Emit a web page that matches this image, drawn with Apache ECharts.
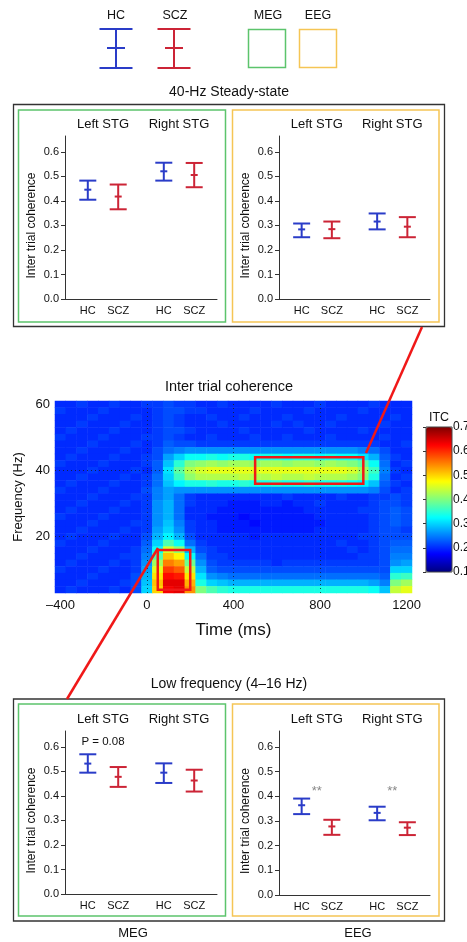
<!DOCTYPE html>
<html>
<head>
<meta charset="utf-8">
<script src="https://cdn.jsdelivr.net/npm/echarts@6/dist/echarts.min.js"></script>
<style>
html, body { margin: 0; padding: 0; background: #fff; }
#chart { width: 467px; height: 942px; }
</style>
</head>
<body>
<div id="chart"></div>
<script>
const FONT = '"Liberation Sans", Arial, sans-serif';
const BLUE = '#2a3cc8';
const RED = '#cc2436';
const GREEN = '#5cc46c';
const ORANGE = '#f5c555';
const LINE_RED = '#f01818';
const JET = ['#00007f', '#0000ff', '#007fff', '#00ffff', '#7fff7f', '#ffff00', '#ff7f00', '#ff0000', '#7f0000'];

// error bar panels: order HC-left, SCZ-left, HC-right, SCZ-right, each [low, mean, high]
const regions = ['Left STG', 'Right STG'];
const groups = ['HC', 'SCZ'];
const meg40Hz = [[0.405, 0.446, 0.483], [0.366, 0.418, 0.467], [0.483, 0.521, 0.556], [0.456, 0.506, 0.555]];
const eeg40Hz = [[0.252, 0.284, 0.308], [0.248, 0.285, 0.316], [0.284, 0.316, 0.349], [0.252, 0.295, 0.334]];
const megLow = [[0.495, 0.532, 0.570], [0.437, 0.478, 0.518], [0.453, 0.495, 0.533], [0.418, 0.463, 0.507]];
const eegLow = [[0.328, 0.364, 0.391], [0.244, 0.278, 0.305], [0.303, 0.333, 0.358], [0.243, 0.273, 0.295]];
const megLowNotes = [['Left STG', 0.62, 'P = 0.08']];
const eegLowNotes = [['Left STG', 0.42, '**'], ['Right STG', 0.42, '**']];

// ITC time-frequency map (values x100), rows from 60 Hz down to 4 Hz
const timeBins = [-400, -350, -300, -250, -200, -150, -100, -50, 0, 50, 100, 150, 200, 250, 300, 350, 400,
  450, 500, 550, 600, 650, 700, 750, 800, 850, 900, 950, 1000, 1050, 1100, 1150, 1200];
const freqBins = [4, 6, 8, 10, 12, 14, 16, 18, 20, 22, 24, 26, 28, 30, 32, 34, 36, 38, 40, 42, 44, 46, 48, 50, 52, 54, 56, 58, 60];
const itcRows = [
  /* 60 */ [20,20,21,20,20,21,20,20, 21,21,22,21,21,20,20,21, 20,20,20,20,21,20,20,20, 21,20,20,20,20,21,20,20, 20],
  /* 58 */ [21,20,20,20,21,20,20,20, 20,21,22,22,21,21,20,20, 20,20,21,20,20,20,20,21, 20,20,20,20,21,20,20,20, 20],
  /* 56 */ [20,20,20,21,20,20,20,21, 20,21,22,21,20,20,21,20, 20,21,20,20,20,21,20,20, 20,20,21,20,20,20,20,21, 20],
  /* 54 */ [20,20,21,20,20,20,21,20, 20,21,22,21,20,20,20,21, 20,20,20,20,21,20,21,20, 20,21,20,20,20,20,21,20, 20],
  /* 52 */ [20,21,20,20,20,21,20,20, 20,21,22,22,21,20,20,20, 20,21,20,20,20,20,20,21, 20,20,20,20,21,20,20,20, 20],
  /* 50 */ [21,20,20,20,21,20,20,20, 21,21,22,21,20,20,21,20, 20,20,21,20,20,21,20,20, 20,21,20,20,20,20,21,20, 20],
  /* 48 */ [20,20,20,21,20,20,20,21, 20,21,23,22,22,21,21,21, 21,21,21,21,21,21,21,21, 21,21,21,21,21,21,20,20, 21],
  /* 46 */ [20,20,21,20,20,20,21,20, 20,22,24,25,26,26,26,26, 26,26,26,26,26,26,26,26, 26,26,26,26,25,24,22,20, 20],
  /* 44 */ [20,21,20,20,20,21,20,20, 21,22,27,30,33,33,34,33, 34,34,33,34,34,33,34,34, 33,34,33,33,31,28,23,21, 20],
  /* 42 */ [21,20,20,20,21,20,20,20, 21,23,29,35,40,41,42,41, 42,42,41,42,42,41,42,42, 41,42,41,40,38,33,24,20, 21],
  /* 40 */ [20,20,20,21,20,20,20,21, 20,23,31,38,43,45,46,46, 46,46,46,46,46,46,46,46, 46,46,46,45,42,36,25,21, 20],
  /* 38 */ [20,20,21,20,20,20,21,20, 21,24,30,36,41,43,43,43, 43,44,43,43,44,43,43,44, 43,43,43,42,40,34,24,20, 21],
  /* 36 */ [20,21,20,20,20,21,20,20, 21,24,29,32,34,34,35,34, 34,35,34,34,35,34,34,35, 34,34,34,33,32,29,23,21, 20],
  /* 34 */ [21,20,20,20,21,20,20,20, 22,25,27,26,26,26,26,26, 26,26,26,26,26,26,26,26, 26,26,26,26,26,25,22,20, 21],
  /* 32 */ [20,20,20,21,20,20,20,21, 21,25,27,24,21,20,20,20, 20,20,20,20,20,21,20,20, 20,20,21,20,20,21,21,22, 21],
  /* 30 */ [20,20,21,20,20,20,21,20, 21,26,28,24,21,20,20,20, 19,19,19,20,20,19,20,20, 21,20,20,20,20,21,22,22, 21],
  /* 28 */ [20,21,20,20,20,21,20,20, 21,26,28,24,20,20,20,19, 19,19,19,19,19,19,19,20, 20,20,20,20,21,21,22,23, 22],
  /* 26 */ [21,20,20,20,21,20,20,20, 21,26,28,24,20,20,19,19, 19,18,19,19,19,19,19,19, 20,20,20,20,20,21,22,23, 22],
  /* 24 */ [20,20,20,21,20,20,20,21, 21,26,29,25,21,20,20,19, 19,19,18,19,19,19,19,19, 19,20,20,20,20,21,22,23, 22],
  /* 22 */ [20,20,21,20,20,20,21,20, 21,27,30,26,21,20,20,19, 19,19,19,19,19,19,19,19, 20,20,20,20,20,21,22,22, 21],
  /* 20 */ [20,21,20,20,20,21,20,20, 22,28,32,28,22,20,20,20, 20,20,19,20,20,20,20,20, 20,20,20,20,21,21,22,22, 22],
  /* 18 */ [21,20,20,20,21,20,20,20, 23,30,37,33,24,21,20,20, 20,20,20,20,20,20,20,20, 20,20,21,20,20,21,22,23, 23],
  /* 16 */ [20,20,20,21,20,20,20,21, 24,33,45,41,28,22,21,20, 20,20,20,20,20,20,20,20, 20,20,20,21,20,21,22,24, 24],
  /* 14 */ [20,20,21,20,20,20,21,21, 25,37,51,48,33,24,21,21, 20,20,20,20,20,20,20,20, 20,20,20,20,21,21,22,25, 25],
  /* 12 */ [20,21,20,20,20,21,20,21, 26,42,55,53,39,26,22,21, 21,21,21,21,20,21,21,21, 21,21,21,21,21,21,22,26, 27],
  /* 10 */ [21,20,20,20,21,20,20,21, 27,46,59,57,44,28,23,22, 22,22,22,22,22,22,22,22, 22,22,22,22,22,22,22,30, 30],
  /*  8 */ [20,20,20,21,20,20,20,22, 28,49,62,61,49,31,26,25, 24,24,24,24,24,24,24,24, 24,24,24,24,24,24,23,35, 36],
  /*  6 */ [20,20,21,20,20,20,21,22, 29,51,64,64,52,34,30,29, 28,28,28,28,28,28,28,28, 28,28,28,28,28,27,25,40, 42],
  /*  4 */ [20,21,20,20,20,21,20,22, 30,50,63,64,54,40,37,35, 34,34,34,34,34,34,34,34, 34,34,34,34,34,33,29,44, 46]
];

// helper value axis 0..20 for member positions inside each panel
const SLOT = [3, 7, 13, 17];
const REGION_X = [5, 15];
const slotLabel = {};
SLOT.forEach((s, i) => { slotLabel[s] = groups[i % 2]; });

const grids = [];
const xAxes = [];
const yAxes = [];
const series = [];

function renderErrorBar(params, api) {
  const x = api.value(0);
  const lo = api.coord([x, api.value(1)]);
  const mean = api.coord([x, api.value(2)]);
  const hi = api.coord([x, api.value(3)]);
  const style = { stroke: api.value(4) === 0 ? BLUE : RED, lineWidth: 2 };
  const seg = (x1, y1, x2, y2) => ({ type: 'line', shape: { x1, y1, x2, y2 }, style });
  return {
    type: 'group',
    children: [
      seg(lo[0], lo[1], hi[0], hi[1]),
      seg(hi[0] - 8.5, hi[1], hi[0] + 8.5, hi[1]),
      seg(lo[0] - 8.5, lo[1], lo[0] + 8.5, lo[1]),
      seg(mean[0] - 3.5, mean[1], mean[0] + 3.5, mean[1])
    ]
  };
}

function addPanel(box, values, notes) {
  const gi = grids.length;
  grids.push({ left: box[0], top: box[1], width: box[2], height: box[3], containLabel: false, outerBoundsMode: 'none' });
  const xi = xAxes.length;
  xAxes.push({
    gridIndex: gi, type: 'category', data: regions, position: 'bottom',
    axisLine: { onZero: false, lineStyle: { color: '#333', width: 1 } },
    axisTick: { alignWithLabel: true, length: 3, lineStyle: { color: '#333' } },
    axisLabel: { show: false }, splitLine: { show: false }
  });
  xAxes.push({
    gridIndex: gi, type: 'category', data: regions, position: 'top',
    axisLine: { show: false, onZero: false }, axisTick: { show: false }, splitLine: { show: false },
    axisLabel: { interval: 0, fontSize: 13, color: '#111', margin: 5, fontFamily: FONT }
  });
  xAxes.push({
    gridIndex: gi, type: 'value', min: 0, max: 20, interval: 1, position: 'bottom',
    axisLine: { show: false, onZero: false }, axisTick: { show: false }, splitLine: { show: false },
    axisLabel: { fontSize: 11, color: '#111', margin: 6, fontFamily: FONT, formatter: v => slotLabel[v] || '' }
  });
  const yi = yAxes.length;
  yAxes.push({
    gridIndex: gi, type: 'value', min: 0, max: 0.665, interval: 0.1,
    axisLine: { show: true, onZero: false, lineStyle: { color: '#333', width: 1 } },
    axisTick: { show: true, length: 4, lineStyle: { color: '#333' } },
    axisLabel: { fontSize: 11, color: '#111', margin: 6, fontFamily: FONT, showMaxLabel: false, formatter: v => v.toFixed(1) },
    splitLine: { show: false },
    name: 'Inter trial coherence', nameLocation: 'middle', nameGap: 27,
    nameTextStyle: { fontSize: 12, color: '#111', fontFamily: FONT, padding: [0, 16, 0, 0] }
  });
  series.push({
    type: 'custom', xAxisIndex: xi + 2, yAxisIndex: yi, renderItem: renderErrorBar, silent: true,
    data: values.map((v, i) => [SLOT[i], v[0], v[1], v[2], i % 2])
  });
  if (notes) {
    series.push({
      type: 'custom', xAxisIndex: xi + 2, yAxisIndex: yi, silent: true,
      data: notes.map(n => [REGION_X[regions.indexOf(n[0])], n[1]]),
      renderItem: (params, api) => {
        const p = api.coord([api.value(0), api.value(1)]);
        const label = notes[params.dataIndex][2];
        const star = label === '**';
        return {
          type: 'text', x: p[0], y: p[1],
          style: { text: label, font: (star ? '13px ' : '11.5px ') + FONT, fill: star ? '#888' : '#111', align: 'center', verticalAlign: 'middle' }
        };
      }
    });
  }
}

addPanel([65, 136, 152, 163], meg40Hz);
addPanel([279, 136, 151, 163], eeg40Hz);

// heatmap
const ti = t => timeBins.indexOf(t);
const fi = f => freqBins.indexOf(f);
const hg = grids.length;
grids.push({ left: 55, top: 401, width: 357, height: 192, containLabel: false, outerBoundsMode: 'none' });
const hx = xAxes.length;
xAxes.push({
  gridIndex: hg, type: 'category', data: timeBins.map(String),
  axisLine: { show: false, onZero: false }, axisTick: { show: false }, splitLine: { show: false },
  axisLabel: { interval: 7, fontSize: 13, color: '#111', margin: 6, fontFamily: FONT, formatter: v => v.replace('-', '\u2013') },
  name: 'Time (ms)', nameLocation: 'middle', nameGap: 29,
  nameTextStyle: { fontSize: 17, color: '#111', fontFamily: FONT }
});
const hy = yAxes.length;
yAxes.push({
  gridIndex: hg, type: 'category', data: freqBins.map(String),
  axisLine: { show: false, onZero: false }, axisTick: { show: false }, splitLine: { show: false },
  axisLabel: { interval: (i, v) => Number(v) % 20 === 0, fontSize: 13, color: '#111', margin: 5, fontFamily: FONT },
  name: 'Frequency (Hz)', nameLocation: 'middle', nameGap: 23,
  nameTextStyle: { fontSize: 13, color: '#111', fontFamily: FONT }
});
const cells = [];
itcRows.forEach((row, r) => {
  row.forEach((v, c) => { cells.push([c, freqBins.length - 1 - r, v / 100]); });
});
const heatIdx = series.length;
series.push({
  type: 'heatmap', xAxisIndex: hx, yAxisIndex: hy, data: cells, silent: true,
  emphasis: { disabled: true },
  markLine: {
    silent: true, symbol: ['none', 'none'], label: { show: false },
    lineStyle: { color: '#1a1a1a', type: [1, 3], width: 1, opacity: 0.8 },
    data: [{ xAxis: '0' }, { xAxis: '400' }, { xAxis: '800' }, { yAxis: '20' }, { yAxis: '40' }]
  },
  markArea: {
    silent: true, z: 10, label: { show: false },
    itemStyle: { color: 'rgba(255,255,255,0)', borderColor: LINE_RED, borderWidth: 2.5 },
    data: [
      [{ xAxis: ti(500), yAxis: fi(36) }, { xAxis: ti(1000), yAxis: fi(44) }],
      [{ xAxis: ti(50), yAxis: fi(4) }, { xAxis: ti(200), yAxis: fi(16) }]
    ]
  }
});

// colour bar axis
const cg = grids.length;
grids.push({ left: 426, top: 427, width: 26, height: 145, containLabel: false, outerBoundsMode: 'none' });
xAxes.push({ gridIndex: cg, type: 'value', show: false });
yAxes.push({
  gridIndex: cg, type: 'value', min: 0.1, max: 0.7, interval: 0.1, position: 'right', z: 10,
  axisLine: { show: false }, splitLine: { show: false },
  axisTick: { show: true, inside: true, length: 3, lineStyle: { color: '#333' } },
  axisLabel: { fontSize: 12, color: '#111', margin: 1, fontFamily: FONT, formatter: v => v.toFixed(1) }
});

addPanel([65, 731, 152, 163], megLow, megLowNotes);
addPanel([279, 731, 151, 164], eegLow, eegLowNotes);

// frames, legend, titles
function txt(x, y, s, size, color) {
  return { type: 'text', x, y, z: 20, silent: true,
    style: { text: s, font: size + 'px ' + FONT, fill: color || '#111', align: 'center', verticalAlign: 'middle' } };
}
function box(x, y, w, h, color, lw) {
  return { type: 'rect', z: 15, silent: true, shape: { x, y, width: w, height: h }, style: { fill: 'none', stroke: color, lineWidth: lw } };
}
function seg(x1, y1, x2, y2, color, lw) {
  return { type: 'line', z: 25, silent: true, shape: { x1, y1, x2, y2 }, style: { stroke: color, lineWidth: lw } };
}
function legendBar(cx, color) {
  return [
    seg(cx, 29, cx, 68, color, 2),
    seg(cx - 16.5, 29, cx + 16.5, 29, color, 2),
    seg(cx - 16.5, 68, cx + 16.5, 68, color, 2),
    seg(cx - 9, 48, cx + 9, 48, color, 2)
  ];
}

const graphics = [
  txt(116, 16, 'HC', 12.5), txt(175, 16, 'SCZ', 12.5), txt(268, 16, 'MEG', 12.5), txt(318, 16, 'EEG', 12.5),
  ...legendBar(116, BLUE), ...legendBar(174, RED),
  box(248.5, 29.5, 37, 38, GREEN, 1.5), box(299.5, 29.5, 37, 38, ORANGE, 1.5),
  txt(229, 92, '40-Hz Steady-state', 14),
  box(13.5, 104.5, 431, 222, '#333', 1.3),
  box(18.5, 110, 207, 212, GREEN, 1.5),
  box(232.5, 110, 206.5, 212, ORANGE, 1.5),
  txt(229, 387, 'Inter trial coherence', 14.5),
  txt(439, 418, 'ITC', 12.5),
  box(426, 427, 26, 145, '#444', 1),
  txt(229, 684, 'Low frequency (4\u201316 Hz)', 14),
  box(13.5, 699, 431, 222, '#333', 1.3),
  box(18.5, 704, 207, 212, GREEN, 1.5),
  box(232.5, 704, 206.5, 212, ORANGE, 1.5),
  txt(133, 933, 'MEG', 13), txt(358, 933, 'EEG', 13),
  seg(366, 453, 422, 327, LINE_RED, 2.5),
  seg(158, 548, 67, 699, LINE_RED, 2.5)
];

const chart = echarts.init(document.getElementById('chart'), null, { renderer: 'canvas' });
chart.setOption({
  backgroundColor: '#fff',
  animation: false,
  textStyle: { fontFamily: FONT },
  grid: grids,
  xAxis: xAxes,
  yAxis: yAxes,
  visualMap: [{
    type: 'continuous', seriesIndex: heatIdx, min: 0.1, max: 0.7, calculable: false, hoverLink: false,
    inRange: { color: JET }, orient: 'vertical', left: 426, top: 427, itemWidth: 26, itemHeight: 145,
    padding: 0, text: null
  }],
  series: series,
  graphic: graphics
});
</script>
</body>
</html>
